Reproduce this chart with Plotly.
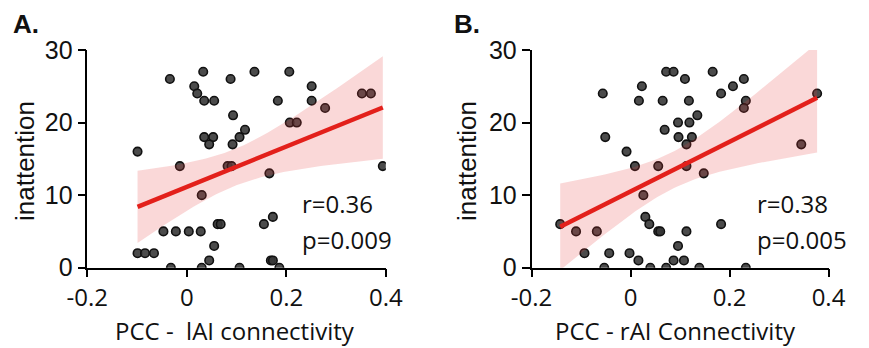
import numpy as np
import plotly.graph_objects as go

# ---------------- data ----------------
a_x = [-0.034, 0.033, 0.015, 0.021, 0.035, 0.055, 0.088, 0.093, 0.035, 0.053,
       0.045, 0.092, 0.106, -0.099, -0.014, 0.082, 0.090, 0.030, 0.062, 0.068,
       -0.047, -0.022, 0.004, 0.028, -0.099, -0.084, -0.066, 0.055, 0.045, -0.032,
       0.030, 0.106, 0.136, 0.206, 0.251, 0.183, 0.251, 0.352, 0.370, 0.278,
       0.207, 0.221, 0.117, 0.166, 0.394, 0.173, 0.155, 0.169, 0.173, 0.186]
a_y = [26, 27, 25, 24, 23, 23, 26, 21, 18, 18,
       17, 17, 18, 16, 14, 14, 14, 10, 6, 6,
       5, 5, 5, 5, 2, 2, 2, 3, 1, 0,
       0, 0, 27, 27, 25, 23, 23, 24, 24, 22,
       20, 20, 19, 13, 14, 7, 6, 1, 1, 0]

b_x = [0.072, 0.087, 0.110, 0.023, -0.056, 0.017, 0.065, 0.096, 0.069, 0.097,
       -0.051, 0.113, -0.008, 0.009, 0.056, 0.026, -0.142, -0.110, -0.068, 0.030,
       0.038, 0.056, 0.060, -0.093, -0.043, -0.002, 0.016, 0.096, 0.087, 0.108,
       -0.053, 0.040, 0.072, 0.166, 0.229, 0.207, 0.183, 0.118, 0.233, 0.229,
       0.377, 0.119, 0.135, 0.124, 0.345, 0.113, 0.148, 0.183, 0.113, 0.139, 0.233]
b_y = [27, 27, 26, 25, 24, 23, 23, 20, 19, 18,
       18, 17, 16, 14, 14, 10, 6, 5, 5, 7,
       6, 5, 5, 2, 2, 2, 1, 3, 1, 1,
       0, 0, 0, 27, 26, 25, 24, 23, 23, 22,
       24, 20, 21, 18, 17, 14, 13, 6, 5, 0, 0]

x_ticks = [-0.2, 0, 0.2, 0.4]
x_ticktext = ["-0.2", "0", "0.2", "0.4"]
y_ticks = [0, 10, 20, 30]

stats_a = ["r=0.36", "p=0.009"]
stats_b = ["r=0.38", "p=0.005"]
xtitle_a = "PCC - \u00a0lAI connectivity"
xtitle_b = "PCC - rAI Connectivity"
ytitle = "inattention"
panel_a = "A."
panel_b = "B."

# ---------------- helpers ----------------
def fit_band(x, y, t=2.01, n_grid=80):
    x = np.asarray(x, float)
    y = np.asarray(y, float)
    n = len(x)
    b, a = np.polyfit(x, y, 1)
    res = y - (a + b * x)
    s = np.sqrt(np.sum(res ** 2) / (n - 2))
    xm = x.mean()
    sxx = np.sum((x - xm) ** 2)
    xg = np.linspace(x.min(), x.max(), n_grid)
    yg = a + b * xg
    hw = t * s * np.sqrt(1.0 / n + (xg - xm) ** 2 / sxx)
    return xg, yg, yg - hw, yg + hw

# the page body has an 8px margin; lay things out in page pixels
OFF = 8
W, H = 869 - OFF, 348 - OFF
def fx(px):
    return (px - OFF) / W
def fy(py):
    return 1 - (py - OFF) / H

fig = go.Figure()

panels = [
    (a_x, a_y, "x", "y"),
    (b_x, b_y, "x2", "y2"),
]
for px, py, xa, ya in panels:
    fig.add_trace(go.Scatter(
        x=px, y=py, mode="markers", xaxis=xa, yaxis=ya,
        marker=dict(size=8.5, color="rgba(55,55,55,0.9)",
                    line=dict(color="#111111", width=1.6)),
        showlegend=False, hoverinfo="skip"))
    xg, yg, lo, hi = fit_band(px, py)
    fig.add_trace(go.Scatter(
        x=np.concatenate([xg, xg[::-1]]), y=np.concatenate([hi, lo[::-1]]),
        xaxis=xa, yaxis=ya, mode="lines", fill="toself",
        fillcolor="rgba(228,60,60,0.2)", line=dict(width=0),
        showlegend=False, hoverinfo="skip"))
    fig.add_trace(go.Scatter(
        x=xg, y=yg, xaxis=xa, yaxis=ya, mode="lines",
        line=dict(color="#e3201b", width=4.5),
        showlegend=False, hoverinfo="skip"))

ydom = [fy(267.7), fy(50)]
xdomA = [fx(87.3), fx(385.8)]
xdomB = [fx(531.5), fx(828.5)]

xcommon = dict(range=[-0.2, 0.4], tickvals=x_ticks, ticktext=x_ticktext,
               showgrid=False, zeroline=False, showline=True, linecolor="black",
               linewidth=1.5, ticks="outside", ticklen=8, tickwidth=1.5,
               tickcolor="black", automargin=False,
               tickfont=dict(family="Open Sans", size=24, color="#111"))
ycommon = dict(range=[0, 30], tickvals=y_ticks,
               showgrid=False, zeroline=False, showline=True, linecolor="black",
               linewidth=1.5, ticks="outside", ticklen=8, tickwidth=1.5,
               tickcolor="black", automargin=False,
               tickfont=dict(family="Liberation Sans", size=25, color="#111"))

fig.update_layout(
    width=W, height=H, margin=dict(l=0, r=0, t=0, b=0, pad=0, autoexpand=False),
    paper_bgcolor="white", plot_bgcolor="white",
    xaxis=dict(domain=xdomA, anchor="y", **xcommon),
    yaxis=dict(domain=ydom, anchor="x", **ycommon),
    xaxis2=dict(domain=xdomB, anchor="y2", **xcommon),
    yaxis2=dict(domain=ydom, anchor="x2", **ycommon),
)

def ann(text, x, y, size, family, xanchor="center", yanchor="middle",
        textangle=0, bold=False):
    if bold:
        text = "<b>" + text + "</b>"
    fig.add_annotation(text=text, x=fx(x), y=fy(y), xref="paper",
                       yref="paper", showarrow=False, xanchor=xanchor,
                       yanchor=yanchor, textangle=textangle,
                       font=dict(family=family, size=size, color="#111"))

# panel letters
ann(panel_a, 11, 24, 26, "Liberation Sans", xanchor="left", bold=True)
ann(panel_b, 452, 24, 26, "Liberation Sans", xanchor="left", bold=True)
# y titles
ann(ytitle, 25, 161, 26, "Liberation Sans", textangle=-90)
ann(ytitle, 467, 161, 26, "Liberation Sans", textangle=-90)
# x titles
ann(xtitle_a, 235, 330, 24, "Open Sans")
ann(xtitle_b, 675, 330, 24, "Open Sans")
# stats
ann(stats_a[0], 300, 204, 24, "Open Sans", xanchor="left")
ann(stats_a[1], 300, 239, 24, "Open Sans", xanchor="left")
ann(stats_b[0], 755, 204, 24, "Open Sans", xanchor="left")
ann(stats_b[1], 755, 239, 24, "Open Sans", xanchor="left")

fig.write_html("out.html")
